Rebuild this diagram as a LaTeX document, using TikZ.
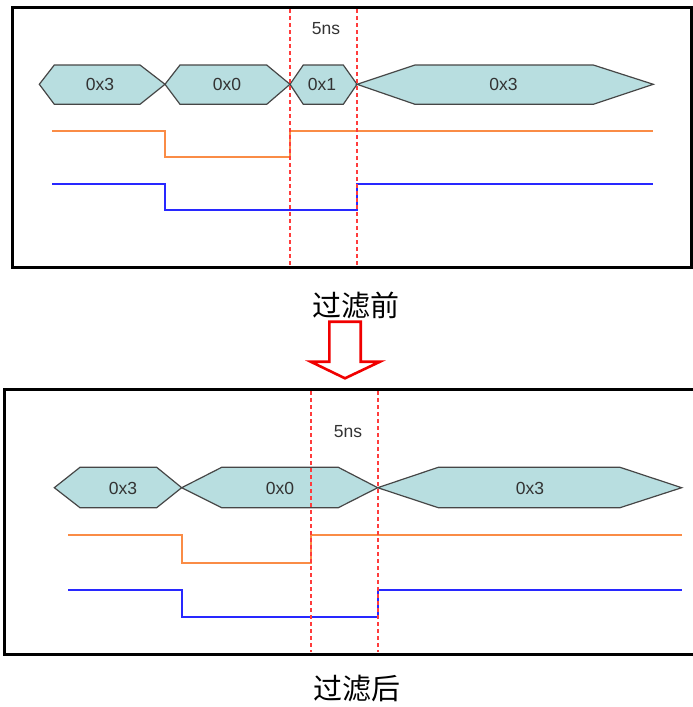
\documentclass[tikz,border=0pt]{standalone}
\usepackage{fontspec}
\setmainfont{Liberation Sans}
\newfontfamily\cjk{Noto Sans CJK SC}
\definecolor{busfill}{RGB}{184,222,224}
\definecolor{busline}{RGB}{70,70,70}
\definecolor{sigorange}{RGB}{250,140,70}
\definecolor{sigblue}{RGB}{40,40,255}
\definecolor{markred}{RGB}{255,60,60}
\definecolor{arrowred}{RGB}{240,0,0}
\begin{document}
\begin{tikzpicture}[x=1pt,y=-1pt,
  frame/.style={draw=black,line width=3pt},
  bus/.style={draw=busline,fill=busfill,line width=1.2pt,line join=miter},
  buslabel/.style={font=\fontsize{17.5}{17.5}\selectfont,text=black!80,inner sep=0pt},
  sigA/.style={draw=sigorange,line width=1.6pt},
  sigB/.style={draw=sigblue,line width=1.6pt},
  marker/.style={draw=markred,line width=1.2pt,dash pattern=on 4pt off 3pt},
  caption/.style={font=\cjk\fontsize{29}{29}\selectfont,inner sep=0pt},
  hollowarrow/.style={draw=arrowred,line width=2.6pt,line join=miter}]
\useasboundingbox (0,0) rectangle (693,707);
% ---------- top panel ----------
\draw[frame] (12,7.5) rectangle (691.5,267.5);
\draw[bus] (39.3,84.3) -- (54.3,65) -- (140,65) -- (165,84.3) -- (140,104.3) -- (54.3,104.3) -- cycle;
\draw[bus] (165,84.3) -- (180,65) -- (266.7,65) -- (290,84.3) -- (266.7,104.3) -- (180,104.3) -- cycle;
\draw[bus] (290,84.3) -- (303.3,65) -- (343.3,65) -- (357,84.3) -- (343.3,104.3) -- (303.3,104.3) -- cycle;
\draw[bus] (357,84.3) -- (415,65) -- (593.3,65) -- (653.3,84.3) -- (593.3,104.3) -- (415,104.3) -- cycle;
\node[buslabel] (t1) at (100,84.5) {0x3};
\node[buslabel] (t2) at (227,84.5) {0x0};
\node[buslabel] (t3) at (322,84.5) {0x1};
\node[buslabel] (t4) at (503.5,84.5) {0x3};
\draw[sigA] (52,131) -- (165,131) -- (165,157) -- (290,157) -- (290,131) -- (653,131);
\draw[sigB] (52,184) -- (165,184) -- (165,210) -- (357,210) -- (357,184) -- (653,184);
\draw[marker] (290,9) -- (290,266);
\draw[marker] (357,9) -- (357,266);
\node[buslabel] (t5) at (326,29) {5ns};
\node[caption] (cap1) at (356,305) {过滤前};
% ---------- hollow arrow ----------
\draw[hollowarrow] (329.3,321.7) -- (360.7,321.7) -- (360.7,361.7) -- (380,361.7) -- (345,378.3) -- (310.7,361.7) -- (329.3,361.7) -- cycle;
% ---------- bottom panel ----------
\draw[frame] (4.5,389) rectangle (694,654);
\draw[bus] (54.3,487.7) -- (80,467.3) -- (156.7,467.3) -- (181.7,487.7) -- (156.7,507.7) -- (80,507.7) -- cycle;
\draw[bus] (181.7,487.7) -- (221.7,467.3) -- (338.3,467.3) -- (377.7,487.7) -- (338.3,507.7) -- (221.7,507.7) -- cycle;
\draw[bus] (377.7,487.7) -- (438.3,467.3) -- (620,467.3) -- (681.7,487.7) -- (620,507.7) -- (438.3,507.7) -- cycle;
\node[buslabel] (b1) at (123,488) {0x3};
\node[buslabel] (b2) at (280,488) {0x0};
\node[buslabel] (b3) at (530,488) {0x3};
\draw[sigA] (68,535) -- (182,535) -- (182,563) -- (311,563) -- (311,535) -- (682,535);
\draw[sigB] (68,590) -- (182,590) -- (182,617) -- (378,617) -- (378,590) -- (682,590);
\draw[marker] (311,391) -- (311,652);
\draw[marker] (378,391) -- (378,652);
\node[buslabel] (b5) at (348,431.7) {5ns};
\node[caption] (cap2) at (356.7,689) {过滤后};
\end{tikzpicture}
\end{document}
